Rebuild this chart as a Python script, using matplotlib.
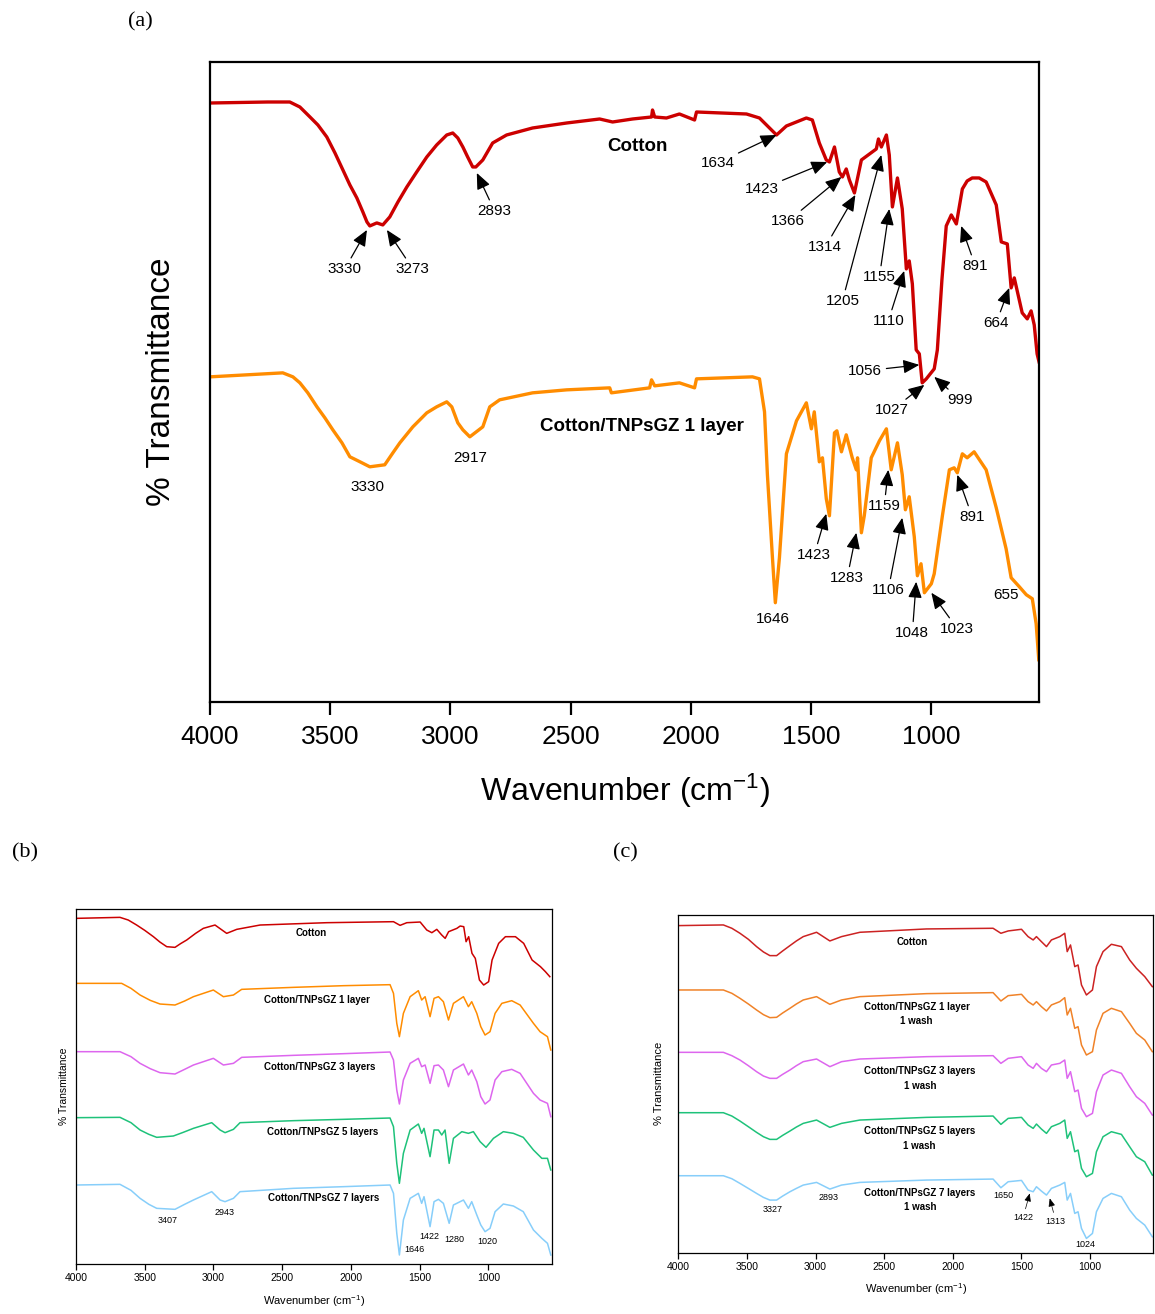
import matplotlib
matplotlib.use('Agg')
import matplotlib.pyplot as plt

plt.rcParams['font.family'] = ['Liberation Sans', 'DejaVu Sans']
plt.rcParams['mathtext.fontset'] = 'custom'
plt.rcParams['mathtext.rm'] = 'Liberation Sans'
plt.rcParams['mathtext.it'] = 'Liberation Sans:italic'

# ---------------- data, panel (a) ----------------
a_wn_cotton = [4000, 3760, 3668, 3626, 3584, 3551, 3514, 3480, 3447, 3418,
               3389, 3364, 3347, 3335, 3306, 3281, 3252, 3218, 3181, 3140,
               3098, 3057, 3015, 2990, 2969, 2948, 2928, 2907, 2894, 2865,
               2824, 2766, 2658, 2516, 2379, 2325, 2242, 2163, 2159, 2150,
               2101, 2047, 1984, 1976, 1768, 1714, 1643, 1602, 1519, 1494,
               1465, 1436, 1423, 1402, 1382, 1369, 1353, 1340, 1319, 1290,
               1228, 1219, 1207, 1186, 1174, 1161, 1140, 1120, 1103, 1091,
               1078, 1062, 1049, 1037, 1020, 987, 974, 955, 937, 916,
               895, 870, 850, 829, 800, 771, 729, 708, 683, 667,
               654, 621, 600, 584, 571, 559, 551]
a_t_cotton = [597, 598, 598, 593, 583, 575, 563, 547, 530, 515,
              502, 488, 478, 474, 477, 475, 483, 498, 513, 528,
              543, 555, 565, 567, 562, 553, 543, 533, 533, 540,
              557, 565, 572, 577, 581, 578, 581, 583, 590, 583,
              582, 586, 580, 588, 586, 582, 565, 574, 582, 580,
              557, 540, 538, 553, 528, 523, 531, 520, 507, 540,
              551, 561, 553, 565, 545, 493, 522, 491, 431, 439,
              416, 350, 346, 317, 321, 331, 350, 420, 474, 485,
              476, 511, 519, 522, 522, 518, 495, 458, 456, 412,
              422, 387, 381, 389, 375, 346, 338]

a_wn_1layer = [4000, 3697, 3655, 3626, 3593, 3555, 3522, 3489, 3451, 3418,
               3376, 3335, 3273, 3239, 3210, 3156, 3098, 3057, 3015, 2994,
               2969, 2948, 2919, 2865, 2836, 2795, 2658, 2516, 2337, 2330,
               2171, 2163, 2150, 2047, 1984, 1976, 1743, 1714, 1693, 1681,
               1660, 1648, 1631, 1602, 1560, 1519, 1498, 1486, 1465, 1452,
               1436, 1423, 1402, 1392, 1373, 1353, 1328, 1311, 1306, 1290,
               1278, 1249, 1215, 1186, 1166, 1140, 1120, 1107, 1091, 1070,
               1057, 1042, 1028, 999, 987, 953, 924, 904, 891, 870,
               850, 821, 771, 729, 688, 667, 633, 604, 579, 563,
               552]
a_t_1layer = [323, 327, 323, 317, 307, 293, 282, 270, 257, 243,
              238, 233, 235, 247, 257, 273, 287, 293, 298, 293,
              277, 270, 263, 273, 293, 300, 307, 310, 312, 307,
              312, 320, 314, 317, 312, 321, 323, 321, 288, 225,
              142, 97, 142, 246, 279, 297, 271, 288, 238, 242,
              201, 184, 267, 269, 248, 265, 242, 230, 242, 167,
              184, 242, 259, 271, 230, 257, 225, 190, 203, 163,
              124, 136, 107, 116, 126, 184, 230, 232, 227, 246,
              242, 248, 230, 192, 151, 122, 113, 105, 101, 76,
              40]

# ---------------- data, panel (b) ----------------
b_wn_cotton = [4000, 3680, 3620, 3559, 3500, 3437, 3390, 3340, 3280, 3240,
               3195, 3130, 3074, 2989, 2904, 2831, 2661, 2176, 1691, 1643,
               1594, 1497, 1449, 1412, 1376, 1340, 1315, 1290, 1230, 1206,
               1180, 1163, 1144, 1120, 1096, 1066, 1035, 999, 974, 926,
               877, 804, 744, 683, 622, 586, 554]
b_t_cotton = [1038, 1041, 1033, 1018, 1002, 983, 967, 953, 951, 962,
              973, 993, 1008, 1018, 993, 1005, 1018, 1025, 1028, 1017,
              1025, 1027, 1003, 995, 1005, 988, 978, 998, 1008, 1015,
              1013, 968, 983, 933, 918, 853, 838, 848, 913, 963,
              983, 983, 963, 913, 893, 878, 863]

b_wn_1layer = [4000, 3668, 3600, 3534, 3460, 3389, 3280, 3210, 3146, 3001,
               2928, 2855, 2795, 2419, 2055, 1716, 1691, 1667, 1648, 1619,
               1570, 1510, 1486, 1461, 1425, 1396, 1364, 1328, 1291, 1255,
               1182, 1146, 1122, 1085, 1056, 1025, 989, 952, 903, 831,
               770, 673, 625, 571, 547]
b_t_1layer = [843, 843, 828, 808, 792, 781, 778, 790, 803, 823,
              803, 808, 825, 831, 836, 839, 813, 723, 683, 753,
              803, 821, 793, 803, 743, 798, 803, 788, 733, 783,
              803, 773, 788, 753, 713, 688, 698, 753, 783, 791,
              778, 723, 698, 683, 643]

b_wn_3layers = [4000, 3680, 3600, 3534, 3460, 3389, 3280, 3210, 3146, 3001,
                2928, 2855, 2795, 2419, 2055, 1716, 1691, 1667, 1648, 1619,
                1570, 1510, 1486, 1461, 1425, 1396, 1364, 1328, 1291, 1255,
                1182, 1146, 1122, 1085, 1056, 1025, 989, 952, 903, 831,
                770, 673, 625, 571, 547]
b_t_3layers = [638, 638, 623, 603, 587, 575, 571, 585, 598, 618,
               598, 603, 621, 627, 632, 637, 613, 523, 481, 553,
               603, 618, 593, 598, 543, 596, 598, 583, 533, 583,
               601, 568, 583, 548, 503, 481, 493, 553, 578, 585,
               573, 513, 493, 483, 443]

b_wn_5layers = [4000, 3680, 3600, 3534, 3470, 3413, 3292, 3220, 3146, 3013,
                2952, 2916, 2855, 2807, 2419, 2055, 1716, 1691, 1667, 1648,
                1619, 1570, 1510, 1486, 1469, 1425, 1396, 1364, 1340, 1316,
                1286, 1255, 1194, 1146, 1110, 1061, 1018, 964, 892, 819,
                747, 673, 612, 571, 547]
b_t_5layers = [440, 441, 425, 403, 390, 381, 385, 396, 408, 425,
               403, 395, 405, 425, 431, 435, 439, 413, 303, 243,
               333, 403, 421, 393, 408, 323, 403, 403, 388, 403,
               303, 378, 398, 393, 398, 368, 351, 378, 398, 393,
               381, 343, 318, 318, 283]

b_wn_7layers = [4000, 3680, 3600, 3534, 3470, 3413, 3280, 3210, 3146, 3013,
                2952, 2916, 2855, 2807, 2419, 2055, 1716, 1691, 1667, 1648,
                1619, 1570, 1510, 1486, 1469, 1425, 1396, 1364, 1328, 1286,
                1255, 1182, 1146, 1122, 1085, 1056, 1025, 989, 952, 892,
                819, 747, 673, 612, 571, 547]
b_t_7layers = [238, 240, 222, 198, 180, 168, 165, 180, 193, 218,
               193, 188, 198, 218, 228, 233, 238, 213, 93, 28,
               133, 198, 213, 183, 203, 113, 188, 195, 183, 123,
               178, 193, 168, 188, 148, 118, 98, 108, 158, 181,
               175, 158, 103, 78, 63, 28]

# ---------------- data, panel (c) ----------------
c_wn = [4000, 3672, 3610, 3551, 3490, 3430, 3380, 3333, 3284, 3240,
        3187, 3140, 3090, 2993, 2896, 2811, 2677, 2192, 1707, 1650,
        1597, 1500, 1452, 1415, 1391, 1355, 1318, 1282, 1221, 1185,
        1167, 1143, 1112, 1088, 1063, 1027, 983, 954, 906, 845,
        772, 712, 663, 602, 547]
c_t_cotton = [981, 983, 973, 958, 940, 918, 902, 891, 891, 905,
              921, 935, 948, 961, 935, 948, 961, 971, 973, 958,
              965, 970, 948, 938, 948, 933, 918, 938, 948, 958,
              903, 923, 858, 863, 803, 773, 788, 858, 903, 925,
              918, 878, 853, 828, 798]
c_t_1layer = [788, 788, 778, 763, 746, 728, 714, 705, 706, 719,
              733, 746, 758, 768, 745, 758, 768, 777, 780, 755,
              771, 775, 753, 743, 753, 738, 725, 743, 753, 765,
              713, 733, 673, 678, 623, 593, 603, 668, 718, 733,
              723, 688, 658, 638, 603]
c_t_3layers = [601, 601, 591, 578, 561, 543, 530, 523, 523, 535,
               548, 561, 573, 581, 558, 573, 581, 588, 591, 568,
               583, 588, 563, 553, 568, 553, 543, 563, 568, 578,
               523, 543, 483, 488, 433, 408, 418, 483, 533, 548,
               538, 498, 468, 448, 413]
c_t_5layers = [420, 420, 410, 395, 378, 361, 348, 340, 340, 352,
               365, 377, 388, 398, 376, 388, 398, 406, 410, 385,
               403, 406, 383, 373, 386, 371, 358, 378, 388, 398,
               343, 363, 303, 308, 253, 228, 238, 303, 348, 363,
               355, 318, 288, 273, 233]
c_t_7layers = [231, 231, 222, 208, 193, 178, 166, 158, 158, 170,
               183, 193, 203, 211, 191, 203, 211, 218, 221, 195,
               213, 217, 188, 183, 198, 185, 173, 193, 203, 211,
               158, 178, 118, 123, 73, 43, 58, 123, 163, 178,
               168, 128, 103, 83, 48]

ticks = [4000, 3500, 3000, 2500, 2000, 1500, 1000]

RED = '#cc0000'
ORANGE = '#ff8c00'
MAGENTA = '#dd66ee'
GREEN = '#1ec27a'
BLUE = '#87cefa'

fig = plt.figure(figsize=(11.55, 13.14), dpi=100)

# ================= panel (a) =================
ax = fig.add_axes([0.1818, 0.4660, 0.7180, 0.4868])
ax.plot(a_wn_cotton, a_t_cotton, color=RED, lw=2.4)
ax.plot(a_wn_1layer, a_t_1layer, color=ORANGE, lw=2.4)
ax.set_xlim(4000, 550)
ax.set_ylim(-2, 638)
ax.set_yticks([])
ax.set_xticks(ticks)
ax.tick_params(axis='x', labelsize=19, length=9, width=1.6, pad=8)
for s in ax.spines.values():
    s.set_linewidth(1.6)
ax.set_xlabel('Wavenumber (cm$^{-1}$)', fontsize=23, labelpad=16)
ax.set_ylabel('% Transmittance', fontsize=24, labelpad=24)

ax.text(2221, 553, 'Cotton', fontsize=13.5, fontweight='bold', ha='center', va='center')
ax.text(2205, 273, 'Cotton/TNPsGZ 1 layer', fontsize=13.5, fontweight='bold', ha='center', va='center')

# label, text position, arrow tip (None = no arrow)
peaks_a = [('3330', (3439, 431), (3347, 470)),
           ('3273', (3156, 431), (3264, 470)),
           ('2893', (2816, 489), (2890, 527)),
           ('1634', (1889, 537), (1643, 565)),
           ('1423', (1706, 511), (1432, 538)),
           ('1366', (1594, 479), (1373, 523)),
           ('1314', (1440, 453), (1315, 505)),
           ('1205', (1369, 399), (1207, 545)),
           ('1155', (1215, 423), (1174, 491)),
           ('1110', (1178, 379), (1112, 429)),
           ('1056', (1274, 329), (1049, 335)),
           ('1027', (1162, 290), (1028, 315)),
           ('999', (879, 300), (987, 323)),
           ('891', (816, 434), (875, 474)),
           ('664', (729, 377), (675, 412)),
           ('3330', (3343, 213), None),
           ('2917', (2919, 242), None),
           ('1646', (1660, 81), None),
           ('1423', (1486, 145), (1436, 186)),
           ('1283', (1349, 122), (1311, 167)),
           ('1159', (1195, 194), (1178, 230)),
           ('1106', (1178, 110), (1120, 182)),
           ('1048', (1078, 67), (1062, 118)),
           ('1023', (891, 71), (999, 107)),
           ('891', (829, 183), (891, 225)),
           ('655', (688, 105), None)]
for lbl, txt, tip in peaks_a:
    if tip is None:
        ax.text(txt[0], txt[1], lbl, fontsize=11, ha='center', va='center')
    else:
        ax.annotate(lbl, xy=tip, xytext=txt, fontsize=11, ha='center', va='center',
                    arrowprops=dict(arrowstyle='-|>,head_length=0.7,head_width=0.3',
                                    color='k', lw=0.9, mutation_scale=14,
                                    shrinkA=1, shrinkB=0))

# ================= panel (b) =================
bx = fig.add_axes([0.0658, 0.0378, 0.4119, 0.2704])
bx.plot(b_wn_cotton, b_t_cotton, color=RED, lw=1.1)
bx.plot(b_wn_1layer, b_t_1layer, color=ORANGE, lw=1.1)
bx.plot(b_wn_3layers, b_t_3layers, color=MAGENTA, lw=1.1)
bx.plot(b_wn_5layers, b_t_5layers, color=GREEN, lw=1.1)
bx.plot(b_wn_7layers, b_t_7layers, color=BLUE, lw=1.1)
bx.set_xlim(4000, 540)
bx.set_ylim(0, 1066)

names_b = ['Cotton', 'Cotton/TNPsGZ 1 layer', 'Cotton/TNPsGZ 3 layers',
           'Cotton/TNPsGZ 5 layers', 'Cotton/TNPsGZ 7 layers']
pos_b = [(2286, 993), (2249, 793), (2225, 593), (2208, 398), (2196, 198)]
for n, p in zip(names_b, pos_b):
    bx.text(p[0], p[1], n, fontsize=7, fontweight='bold', ha='center', va='center')
for lbl, p in [('3407', (3333, 133)), ('2943', (2921, 155)), ('1646', (1541, 43)),
               ('1422', (1430, 83)), ('1280', (1250, 73)), ('1020', (1008, 68))]:
    bx.text(p[0], p[1], lbl, fontsize=6.5, ha='center', va='center')

# ================= panel (c) =================
cx = fig.add_axes([0.5873, 0.0466, 0.4112, 0.2571])
cx.plot(c_wn, c_t_cotton, color='#cc2222', lw=1.1)
cx.plot(c_wn, c_t_1layer, color='#f08228', lw=1.1)
cx.plot(c_wn, c_t_3layers, color=MAGENTA, lw=1.1)
cx.plot(c_wn, c_t_5layers, color=GREEN, lw=1.1)
cx.plot(c_wn, c_t_7layers, color=BLUE, lw=1.1)
cx.set_xlim(4000, 540)
cx.set_ylim(0, 1013)

names_c = ['Cotton', 'Cotton/TNPsGZ 1 layer\n1 wash', 'Cotton/TNPsGZ 3 layers\n1 wash',
           'Cotton/TNPsGZ 5 layers\n1 wash', 'Cotton/TNPsGZ 7 layers\n1 wash']
pos_c = [(2296, 933), (2265, 716), (2240, 523), (2245, 343), (2240, 158)]
for n, p in zip(names_c, pos_c):
    cx.text(p[0], p[1], n, fontsize=7, fontweight='bold', ha='center', va='center',
            multialignment='center', linespacing=1.6)
for lbl, p in [('3327', (3316, 131)), ('2893', (2905, 166)),
               ('1650', (1634, 171)), ('1024', (1034, 25))]:
    cx.text(p[0], p[1], lbl, fontsize=6.5, ha='center', va='center')
for lbl, txt, tip in [('1422', (1488, 106), (1440, 178)), ('1313', (1250, 95), (1294, 163))]:
    cx.annotate(lbl, xy=tip, xytext=txt, fontsize=6.5, ha='center', va='center',
                arrowprops=dict(arrowstyle='-|>,head_length=0.6,head_width=0.25',
                                color='k', lw=0.5, mutation_scale=8,
                                shrinkA=1, shrinkB=0))

for a in (bx, cx):
    a.set_yticks([])
    a.set_xticks(ticks)
    a.tick_params(axis='x', labelsize=7.5, length=4, width=0.9, pad=2.5)
    for s in a.spines.values():
        s.set_linewidth(0.9)
    a.set_xlabel('Wavenumber (cm$^{-1}$)', fontsize=8, labelpad=7)
bx.set_ylabel('% Transmittance', fontsize=7.5, labelpad=5)
cx.set_ylabel('% Transmittance', fontsize=8, labelpad=10)

# panel letters
fig.text(0.1212, 0.9833, '(a)', fontsize=16, family='Liberation Serif', ha='center', va='center')
fig.text(0.0216, 0.3508, '(b)', fontsize=16, family='Liberation Serif', ha='center', va='center')
fig.text(0.5411, 0.3508, '(c)', fontsize=16, family='Liberation Serif', ha='center', va='center')

fig.savefig('out.png', dpi=100)
